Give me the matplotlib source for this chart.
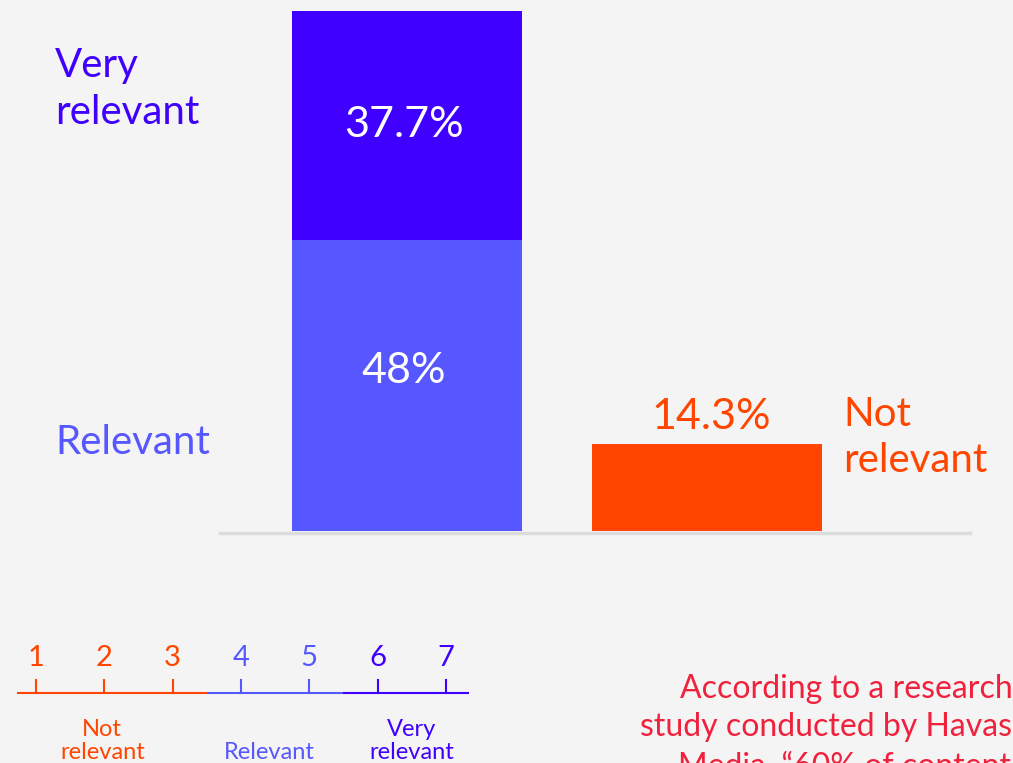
import matplotlib
matplotlib.use("Agg")
from matplotlib import pyplot as plt

plt.rcParams['font.family'] = ['Lato', 'DejaVu Sans']

# data
groups = ['Relevant + Very relevant', 'Not relevant']
relevant = [48.0, 0.0]
very_relevant = [37.7, 0.0]
not_relevant = [0.0, 14.3]

scale_points = [1, 2, 3, 4, 5, 6, 7]
scale_groups = ['Not\nrelevant', 'Relevant', 'Very\nrelevant']

c_very = '#3f00ff'
c_rel = '#5757ff'
c_not = '#ff4500'
c_red = '#f0213d'
bg = '#f4f4f4'

W, H = 1013, 763
fig = plt.figure(figsize=(W / 100, H / 100), dpi=100, facecolor=bg)

def fx(px):
    return px / W

def fy(py):
    return 1 - py / H

# main bars
ax = fig.add_axes([fx(220), fy(531), fx(750), 531 / H])
ax.set_facecolor(bg)
x = [0, 1]
w = 0.767
ax.bar(x[0], relevant[0], width=w, color=c_rel)
ax.bar(x[0], very_relevant[0], bottom=relevant[0], width=w, color=c_very)
ax.bar(x[1], not_relevant[1], width=w, color=c_not)
ax.set_xlim(-0.623, 1.877)
ax.set_ylim(0, 87.5)
ax.axis('off')
ax.axhline(-0.3, color='#dcdcdc', lw=2.5, clip_on=False)

ax.text(x[0] - 0.01, relevant[0] + very_relevant[0] / 2, f'{very_relevant[0]}%', color='white',
        fontsize=31, ha='center', va='center')
ax.text(x[0] - 0.01, relevant[0] * 0.55, f'{relevant[0]:g}%', color='white',
        fontsize=31, ha='center', va='center')
ax.annotate(f'{not_relevant[1]}%', (x[1], not_relevant[1]), xytext=(3, 6),
            textcoords='offset points', color=c_not, fontsize=31, ha='center', va='bottom')

fig.text(fx(55), fy(89), 'Very\nrelevant', color=c_very, fontsize=29, ha='left',
         va='center', linespacing=1.32)
fig.text(fx(55), fy(443), 'Relevant', color=c_rel, fontsize=29, ha='left', va='center')
fig.text(fx(843), fy(438), 'Not\nrelevant', color=c_not, fontsize=29, ha='left',
         va='center', linespacing=1.3)

# scale legend
sx = fig.add_axes([0, 0, fx(480), 140 / H])
sx.set_facecolor(bg)
sx.set_xlim(0.473, 7.498)
sx.set_ylim(0, 140)
sx.axis('off')
point_colors = [c_not, c_not, c_not, c_rel, c_rel, c_very, c_very]
segments = [(0.72, 3.5, c_not), (3.5, 5.5, c_rel), (5.5, 7.34, c_very)]
for a, b, c in segments:
    sx.plot([a, b], [70, 70], color=c, lw=1.5, solid_capstyle='butt')
for p, c in zip(scale_points, point_colors):
    sx.plot([p, p], [70, 83], color=c, lw=1.5)
    sx.text(p, 105, str(p), color=c, fontsize=21, ha='center', va='center')
label_x = [1.97, 4.41, 6.5]
label_c = [c_not, c_rel, c_very]
for lx, lab, c in zip(label_x, scale_groups, label_c):
    sx.text(lx, 0, lab, color=c, fontsize=17, ha='center', va='bottom', linespacing=1.1)

# quote text (cropped at edges)
fig.text(fx(680), fy(689), 'According to a research', color=c_red, fontsize=23,
         ha='left', va='center')
fig.text(fx(640), fy(727), 'study conducted by Havas', color=c_red, fontsize=23,
         ha='left', va='center')
fig.text(fx(678), fy(767), 'Media, \u201c60% of content', color=c_red, fontsize=23,
         ha='left', va='center')

fig.savefig('out.png', dpi=100, facecolor=bg)
